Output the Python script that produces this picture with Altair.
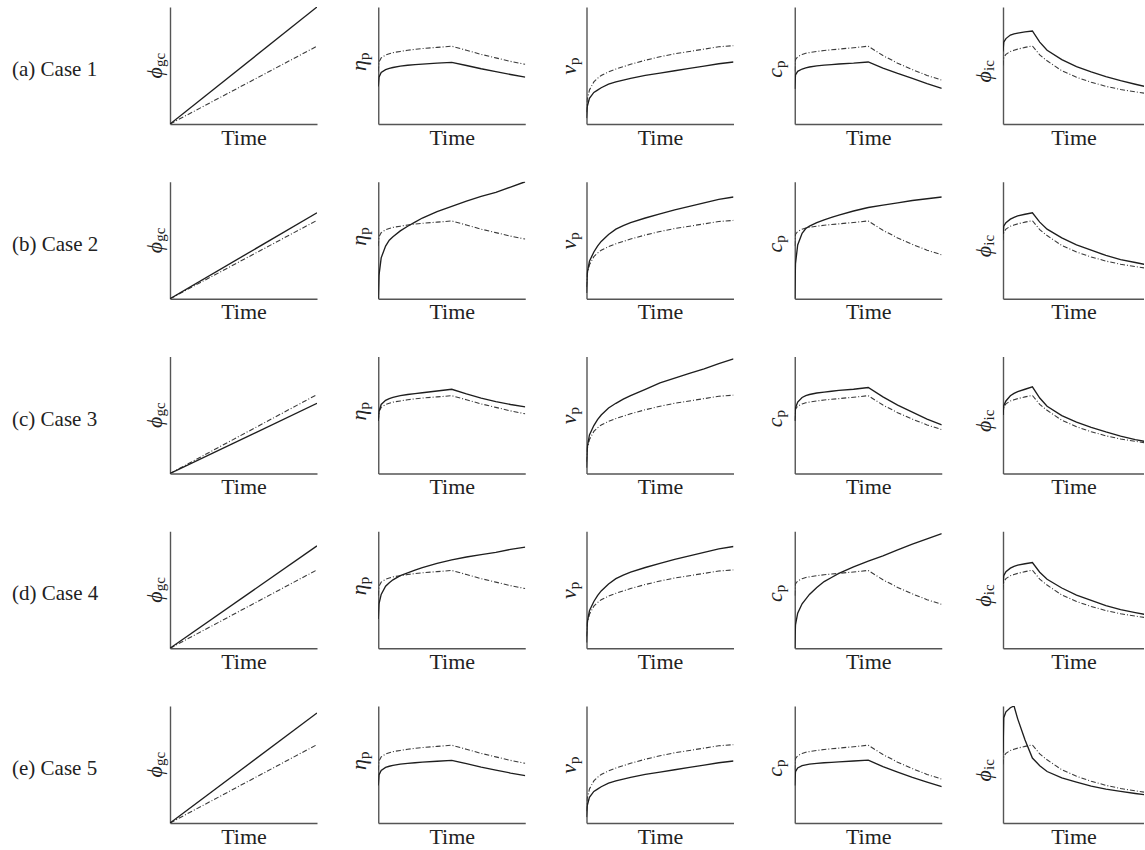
import altair as alt
import pandas as pd

SERIF = "Liberation Serif, DejaVu Serif, serif"

# ---- labels ----
CASES = ["(a) Case 1", "(b) Case 2", "(c) Case 3", "(d) Case 4", "(e) Case 5"]
X_TITLE = "Time"
Y_SYMBOLS = ["\u03d5", "\u03b7", "\u03bd", "c", "\u03d5"]
Y_SUBS = ["gc", "p", "p", "p", "ic"]

# ---- data (normalised panel units) ----
T = [0, 0.005, 0.02, 0.05, 0.075, 0.1, 0.15, 0.2, 0.25, 0.3, 0.4, 0.5, 0.6, 0.7, 0.8, 0.9, 1.0]
T_LINE = [0, 1]

PHI_GC_REF_END = [0.665, 0.67, 0.675, 0.67, 0.67]
PHI_GC_END = [1.0, 0.735, 0.60, 0.875, 0.94]

ETA_REF = [0.45, 0.53, 0.565, 0.59, 0.60, 0.61, 0.62, 0.63, 0.638, 0.645, 0.655, 0.665, 0.63, 0.595, 0.565, 0.535, 0.51]
ETA = [
    [0.32, 0.40, 0.44, 0.465, 0.475, 0.483, 0.495, 0.502, 0.507, 0.512, 0.52, 0.527, 0.50, 0.472, 0.447, 0.423, 0.40],
    [0.0, 0.20, 0.35, 0.45, 0.50, 0.53, 0.58, 0.62, 0.655, 0.69, 0.745, 0.79, 0.835, 0.875, 0.91, 0.955, 1.0],
    [0.45, 0.53, 0.59, 0.625, 0.64, 0.65, 0.665, 0.675, 0.683, 0.69, 0.705, 0.72, 0.68, 0.645, 0.615, 0.59, 0.57],
    [0.25, 0.38, 0.46, 0.53, 0.56, 0.585, 0.62, 0.645, 0.668, 0.69, 0.725, 0.755, 0.78, 0.80, 0.82, 0.845, 0.865],
    [0.32, 0.41, 0.45, 0.475, 0.485, 0.492, 0.503, 0.51, 0.515, 0.52, 0.528, 0.535, 0.507, 0.478, 0.452, 0.427, 0.405],
]

NU_REF = [0.10, 0.21, 0.29, 0.36, 0.39, 0.415, 0.445, 0.47, 0.49, 0.51, 0.545, 0.575, 0.60, 0.62, 0.64, 0.66, 0.67]
NU = [
    [0.05, 0.15, 0.22, 0.27, 0.29, 0.31, 0.34, 0.36, 0.375, 0.39, 0.415, 0.435, 0.455, 0.475, 0.495, 0.515, 0.53],
    [0.05, 0.22, 0.32, 0.40, 0.45, 0.49, 0.55, 0.595, 0.625, 0.65, 0.69, 0.725, 0.76, 0.79, 0.82, 0.85, 0.87],
    [0.05, 0.22, 0.33, 0.41, 0.46, 0.50, 0.56, 0.60, 0.635, 0.665, 0.72, 0.775, 0.815, 0.855, 0.895, 0.94, 0.98],
    [0.05, 0.22, 0.32, 0.40, 0.45, 0.49, 0.55, 0.595, 0.625, 0.65, 0.69, 0.725, 0.76, 0.79, 0.82, 0.85, 0.87],
    [0.05, 0.15, 0.22, 0.27, 0.29, 0.31, 0.34, 0.36, 0.375, 0.39, 0.415, 0.435, 0.455, 0.475, 0.495, 0.515, 0.53],
]

C_REF = [0.45, 0.55, 0.575, 0.595, 0.605, 0.61, 0.62, 0.628, 0.634, 0.64, 0.652, 0.665, 0.585, 0.52, 0.465, 0.415, 0.375]
C = [
    [0.30, 0.42, 0.45, 0.47, 0.48, 0.487, 0.497, 0.503, 0.508, 0.513, 0.52, 0.53, 0.478, 0.432, 0.39, 0.345, 0.305],
    [0.0, 0.30, 0.46, 0.56, 0.60, 0.62, 0.65, 0.675, 0.695, 0.715, 0.75, 0.78, 0.80, 0.82, 0.84, 0.855, 0.87],
    [0.45, 0.56, 0.61, 0.65, 0.665, 0.675, 0.688, 0.695, 0.703, 0.71, 0.72, 0.735, 0.655, 0.585, 0.525, 0.465, 0.415],
    [0.0, 0.20, 0.30, 0.38, 0.42, 0.46, 0.52, 0.57, 0.605, 0.64, 0.695, 0.745, 0.79, 0.84, 0.89, 0.935, 0.98],
    [0.32, 0.44, 0.47, 0.49, 0.497, 0.503, 0.51, 0.515, 0.518, 0.522, 0.53, 0.537, 0.482, 0.435, 0.39, 0.35, 0.31],
]

PHI_IC_REF = [0.50, 0.57, 0.595, 0.62, 0.63, 0.64, 0.655, 0.667, 0.59, 0.54, 0.455, 0.40, 0.357, 0.322, 0.295, 0.275, 0.257]
PHI_IC = [
    [0.62, 0.70, 0.73, 0.76, 0.77, 0.777, 0.787, 0.795, 0.70, 0.63, 0.55, 0.49, 0.445, 0.405, 0.37, 0.34, 0.31],
    [0.55, 0.62, 0.65, 0.68, 0.695, 0.708, 0.722, 0.735, 0.655, 0.595, 0.52, 0.46, 0.415, 0.37, 0.335, 0.31, 0.285],
    [0.50, 0.58, 0.62, 0.665, 0.685, 0.70, 0.72, 0.74, 0.645, 0.575, 0.495, 0.44, 0.395, 0.355, 0.32, 0.29, 0.265],
    [0.55, 0.62, 0.655, 0.685, 0.70, 0.71, 0.722, 0.733, 0.65, 0.59, 0.515, 0.455, 0.41, 0.365, 0.33, 0.305, 0.28],
    [0.60, 0.90, 0.95, 0.985, 1.0, 0.89, 0.71, 0.555, 0.49, 0.44, 0.385, 0.35, 0.315, 0.29, 0.27, 0.252, 0.235],
]

REFS = [None, ETA_REF, NU_REF, C_REF, PHI_IC_REF]
SOLIDS = [None, ETA, NU, C, PHI_IC]

# ---- layout / style ----
PANEL_W = 147
LAST_W = 141
PANEL_H = 117
YLAB_X = [-8, -12, -11, -13, -12]
YLAB_Y = [60, 53, 58, 61, 64]


def panel(row, col):
    last = col == 4
    w = LAST_W if last else PANEL_W
    xmax = LAST_W / PANEL_W if last else 1.0
    if col == 0:
        ts = T_LINE
        solid = [0, PHI_GC_END[row]]
        ref = [0, PHI_GC_REF_END[row]]
    else:
        ts = T
        solid = SOLIDS[col][row]
        ref = REFS[col]
    df_s = pd.DataFrame({"t": ts, "v": solid})
    df_r = pd.DataFrame({"t": ts, "v": ref})

    x = alt.X("t:Q", title=X_TITLE,
              scale=alt.Scale(domain=[0, xmax], nice=False, zero=False))
    y = alt.Y("v:Q", title="", scale=alt.Scale(domain=[0, 1], nice=False))

    ref_line = alt.Chart(df_r).mark_line(
        color="#3a3a3a", strokeWidth=1.1, strokeDash=[5, 2, 1, 2], clip=True
    ).encode(x=x, y=y)
    solid_line = alt.Chart(df_s).mark_line(
        color="#1e1e1e", strokeWidth=1.35, clip=True
    ).encode(x=x, y=y)

    main = alt.Chart(pd.DataFrame({"s": [Y_SYMBOLS[col]]})).mark_text(
        angle=270, align="right", baseline="alphabetic", font=SERIF,
        fontStyle="italic", fontSize=22, color="#222"
    ).encode(x=alt.value(YLAB_X[col]), y=alt.value(YLAB_Y[col]), text="s:N")
    sub = alt.Chart(pd.DataFrame({"s": [Y_SUBS[col]]})).mark_text(
        angle=270, align="left", baseline="alphabetic", font=SERIF,
        fontSize=15, color="#222"
    ).encode(x=alt.value(YLAB_X[col] + 3), y=alt.value(YLAB_Y[col]), text="s:N")

    layers = [ref_line, solid_line, main, sub]
    if col == 0:
        lab = alt.Chart(pd.DataFrame({"s": [CASES[row]]})).mark_text(
            align="left", baseline="middle", font=SERIF, fontSize=21, color="#222"
        ).encode(x=alt.value(-158), y=alt.value(63), text="s:N")
        layers.append(lab)
    return alt.layer(*layers).properties(width=w, height=PANEL_H)


panels = [panel(r, c) for r in range(5) for c in range(5)]

chart = (
    alt.concat(
        *panels,
        columns=5,
        bounds="flush",
        align="each",
        spacing={"row": 57.75, "column": 61.25},
    )
    .properties(padding={"left": 12, "top": 7, "right": 0, "bottom": 0})
    .configure_view(strokeWidth=0)
    .configure_axis(
        labels=False, ticks=False, grid=False,
        domainColor="#555", domainWidth=1.4,
        titleFont=SERIF, titleFontSize=22, titleFontWeight="normal",
        titleColor="#222",
    )
    .configure_axisX(titlePadding=3)
    .configure_axisY(titlePadding=0)
)

chart.save("out.html", embed_options={"renderer": "svg", "actions": False})
